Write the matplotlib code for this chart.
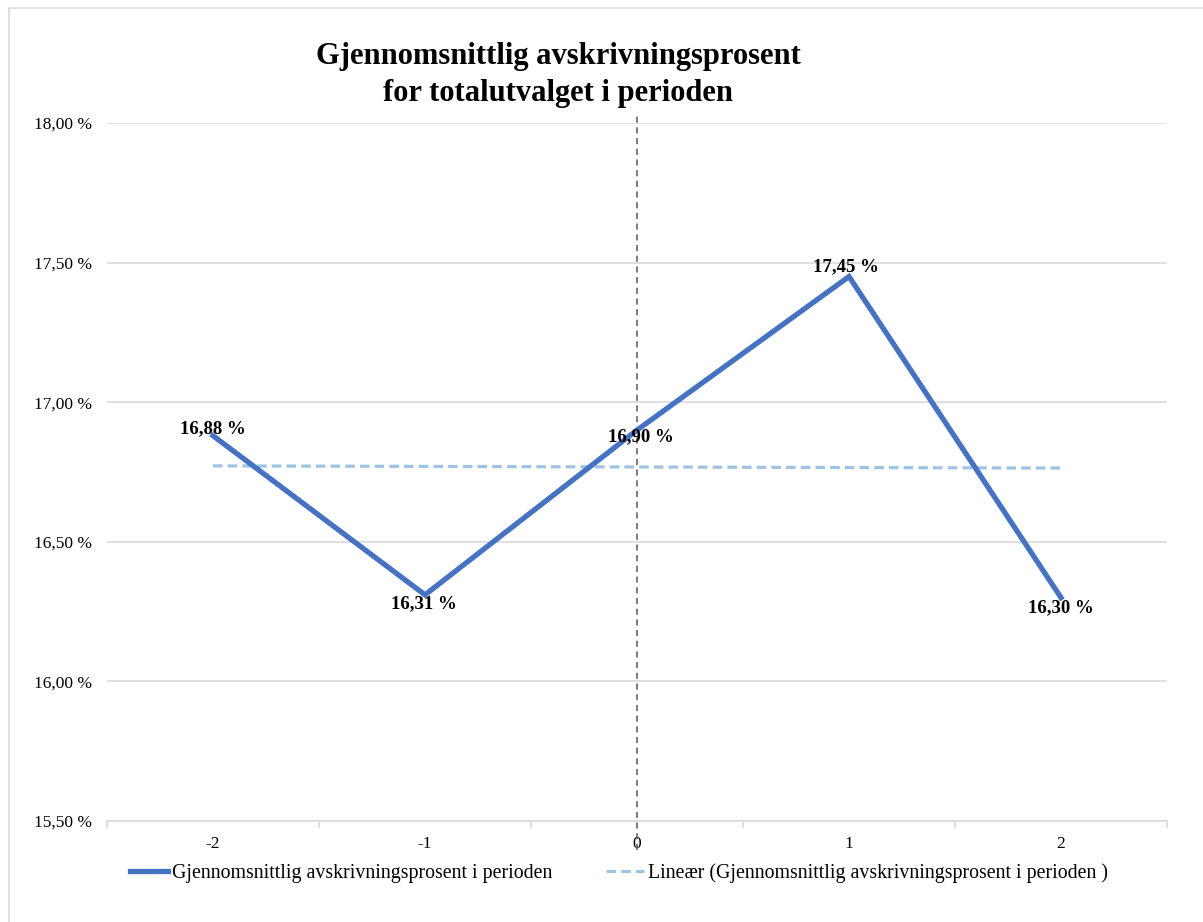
import matplotlib
matplotlib.use("Agg")
import matplotlib.pyplot as plt
from matplotlib.patches import Rectangle
from matplotlib.ticker import FixedLocator
import numpy as np

plt.rcParams['font.family'] = ['Liberation Serif', 'DejaVu Serif']

periods = [-2, -1, 0, 1, 2]
values = [16.88, 16.31, 16.90, 17.45, 16.30]
yticks = [15.50, 16.00, 16.50, 17.00, 17.50, 18.00]
series_name = "Gjennomsnittlig avskrivningsprosent i perioden"
trend_name = "Lineær (Gjennomsnittlig avskrivningsprosent i perioden )"
title = "Gjennomsnittlig avskrivningsprosent\nfor totalutvalget i perioden"
# label offsets in points (dx, dy)
label_offsets = [(0, 5), (-1, -6.5), (3, -5), (-2, 7), (0, -7.5)]

W, H = 1203, 922
fig = plt.figure(figsize=(W / 100, H / 100), dpi=100)
fig.patch.set_facecolor("white")

# chart border
fig.add_artist(Rectangle((9 / W, -0.1), 1.1, 1 - 8 / H + 0.1, transform=fig.transFigure,
                         fill=False, edgecolor="#D9D9D9", linewidth=1.2))

ax = fig.add_axes([107 / W, 1 - 821 / H, (1167 - 107) / W, (821 - 123) / H])
ax.set_xlim(-2.5, 2.5)
ax.set_ylim(15.5, 18.0)

grid_c = "#D9D9D9"
for s in ["top", "right", "left"]:
    ax.spines[s].set_visible(False)
ax.spines["bottom"].set_color(grid_c)
ax.spines["bottom"].set_linewidth(1.2)

ax.set_yticks(yticks)
ax.set_yticklabels([f"{v:.2f}".replace(".", ",") + " %" for v in yticks], fontsize=12.5)
ax.tick_params(axis="y", length=0, pad=10.5)
ax.yaxis.grid(True, color=grid_c, linewidth=1.2)
ax.set_axisbelow(True)

ax.set_xticks(periods)
ax.set_xticklabels([str(p) for p in periods], fontsize=12.5)
ax.tick_params(axis="x", which="major", length=0, pad=11)
ax.xaxis.set_minor_locator(FixedLocator(np.arange(-2.5, 2.6, 1.0)))
ax.tick_params(axis="x", which="minor", length=5, color=grid_c, width=1.2)

# vertical reference line at period 0
ax.plot([0, 0], [15.396, 18.04], color="#595959", linestyle=(0, (4, 3)),
        linewidth=1.1, clip_on=False, zorder=1)

x = np.array(periods, dtype=float)
y = np.array(values)
line, = ax.plot(x, y, color="#4472C4", linewidth=3.8, solid_joinstyle="miter",
                zorder=3, label=series_name)

slope, intercept = np.polyfit(x, y, 1)
trend, = ax.plot(x, slope * x + intercept, color="#9DC3E6", linewidth=2.3,
                 linestyle=(0, (3, 1.6)), zorder=2, label=trend_name)

for xi, yi, (dx, dy) in zip(x, y, label_offsets):
    ax.annotate(f"{yi:.2f}".replace(".", ",") + " %", (xi, yi), xytext=(dx, dy),
                textcoords="offset points", ha="center", va="center",
                fontsize=13.5, fontweight="bold", zorder=4)

fig.text(558 / W, 1 - 75 / H, title, ha="center", va="center", fontsize=22,
         fontweight="bold", linespacing=1.32)

leg = fig.legend(handles=[line, trend], loc="center", bbox_to_anchor=(619 / W, 1 - 873 / H),
                 ncol=2, frameon=False, fontsize=14.3, handlelength=1.9,
                 handletextpad=0.2, columnspacing=2.7)

fig.savefig("out.png", dpi=100)
